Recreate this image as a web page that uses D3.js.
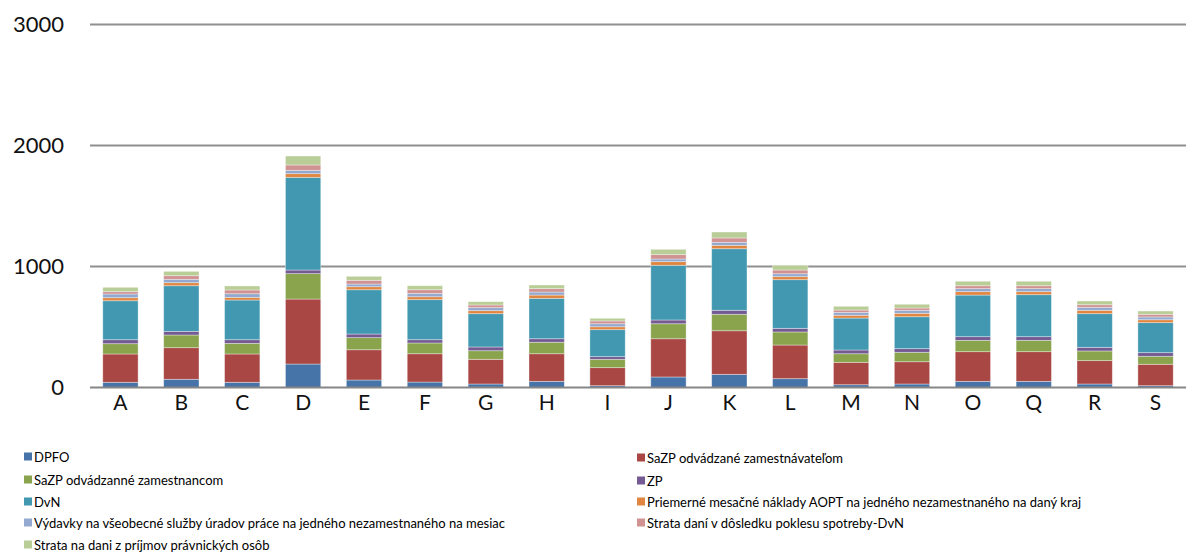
<!DOCTYPE html>
<html><head><meta charset="utf-8">
<script src="https://cdn.jsdelivr.net/npm/d3@7"></script>
<style>
html,body{margin:0;padding:0;background:#fff;}
svg{display:block;font-family:Lato,"Open Sans",sans-serif;}
</style></head>
<body>
<svg id="chart" width="1186" height="554"></svg>
<script>
const categories = ["A","B","C","D","E","F","G","H","I","J","K","L","M","N","O","Q","R","S"];
const seriesNames = [
  "DPFO",
  "SaZP odvádzané zamestnávateľom",
  "SaZP odvádzanné zamestnancom",
  "ZP",
  "DvN",
  "Priemerné mesačné náklady AOPT na jedného nezamestnaného na daný kraj",
  "Výdavky na všeobecné služby úradov práce na jedného nezamestnaného na mesiac",
  "Strata daní v dôsledku poklesu spotreby-DvN",
  "Strata na dani z príjmov právnických osôb"
];
const seriesColors = ["#4674A9","#A94744","#89A44C","#735A93","#4298B0","#E08640","#93A9CF","#D09392","#B9CD96"];
// values per series, in category order
const dpfo    = [43,68,43,194,62,45,29,51,15,87,109,73,23,29,51,51,29,15];
const sazpEmp = [234,261,234,537,250,234,204,228,149,316,360,278,185,184,245,245,193,177];
const sazpZam = [85,105,88,210,100,89,71,95,69,124,136,108,71,78,94,94,80,66];
const zp      = [33,30,30,30,30,27,31,29,22,31,33,30,31,30,30,30,30,30];
const dvn     = [322,377,328,766,366,331,275,334,223,452,509,402,264,264,344,347,278,248];
const aopt    = [25,25,22,30,25,24,25,27,24,30,28,25,23,28,28,25,28,24];
const vydavky = [31,28,30,28,22,28,25,25,25,22,25,24,24,25,25,25,25,23];
const strataDvn = [19,30,31,44,31,30,22,28,23,36,36,31,19,19,24,24,21,22];
const strataPO  = [36,36,33,74,33,33,27,30,22,44,49,39,31,31,37,37,31,27];
const seriesValues = [dpfo,sazpEmp,sazpZam,zp,dvn,aopt,vydavky,strataDvn,strataPO];
const yTicks = [0,1000,2000,3000];

const svg = d3.select("#chart");
const x = d3.scaleBand().domain(categories).range([90,1186]).paddingInner(0.42).paddingOuter(0.21);
const y = d3.scaleLinear().domain([0,3000]).range([387.5,24.5]);

// gridlines
svg.append("g").selectAll("line").data(yTicks.filter(d=>d>0)).join("line")
  .attr("x1",90).attr("x2",1186)
  .attr("y1",d=>y(d)).attr("y2",d=>y(d))
  .attr("stroke","#8f8f8f").attr("stroke-width",2);

// stacked data
const rows = categories.map((c,i)=>{const r={cat:c}; seriesNames.forEach((s,j)=>r[s]=seriesValues[j][i]); return r;});
const stack = d3.stack().keys(seriesNames)(rows);

svg.append("g").selectAll("g").data(stack).join("g")
  .attr("fill",(d,i)=>seriesColors[i])
  .selectAll("rect").data(d=>d).join("rect")
  .attr("x",d=>x(d.data.cat))
  .attr("width",x.bandwidth())
  .attr("y",d=>y(d[1]))
  .attr("height",d=>y(d[0])-y(d[1]))
  .attr("stroke","rgba(255,255,255,0.45)").attr("stroke-width",0.8);

// zero axis line
svg.append("line").attr("x1",90).attr("x2",1186).attr("y1",y(0)).attr("y2",y(0))
  .attr("stroke","#868686").attr("stroke-width",2);

// y tick labels
const yAxis = d3.axisLeft(y).tickValues(yTicks).tickSize(0).tickPadding(0).tickFormat(d3.format("d"));
const ya = svg.append("g").attr("transform","translate(64,0)").call(yAxis);
ya.select(".domain").remove();
ya.selectAll("text").attr("font-size","22px").attr("fill","#111").attr("font-family","Lato, 'Open Sans', sans-serif");

// x labels
const xAxis = d3.axisBottom(x).tickSize(0).tickPadding(0);
const xa = svg.append("g").attr("transform","translate(0,393)").call(xAxis);
xa.select(".domain").remove();
xa.selectAll("text").attr("font-size","21px").attr("fill","#111").attr("dy","0.8em").attr("font-family","Lato, 'Open Sans', sans-serif");

// legend
const legendPos = [
  [24,457],[637,458],
  [24,480],[637,481],
  [24,502],[637,502],
  [24,523],[637,523],
  [24,545]
];
const lg = svg.append("g").selectAll("g").data(seriesNames).join("g")
  .attr("transform",(d,i)=>`translate(${legendPos[i][0]},${legendPos[i][1]})`);
lg.append("rect").attr("x",0).attr("y",-4.5).attr("width",8).attr("height",8).attr("fill",(d,i)=>seriesColors[i]);
lg.append("text").attr("x",10).attr("y",0).attr("dy","0.35em").attr("font-size","13px").attr("fill","#000").text(d=>d);
</script>
</body></html>
